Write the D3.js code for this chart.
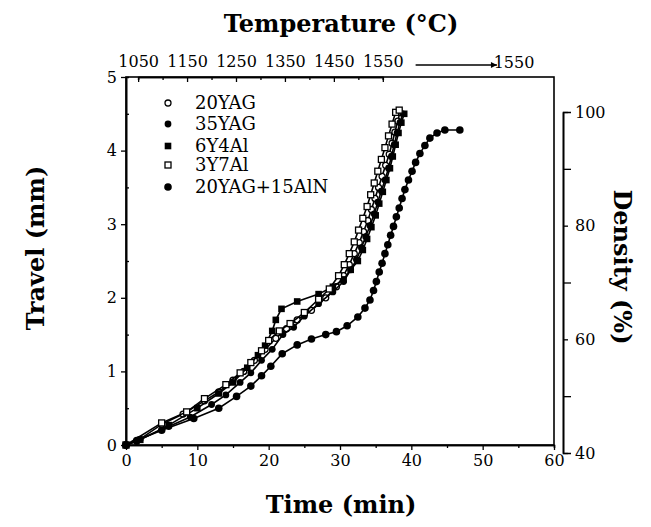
<!DOCTYPE html>
<html>
<head>
<meta charset="utf-8">
<script src="https://cdn.jsdelivr.net/npm/d3@7"></script>
<style>
  body { margin: 0; background: #fff; }
  text { font-family: "DejaVu Serif", "Liberation Serif", serif; fill: #000; }
</style>
</head>
<body>
<div class="chart"></div>
<script>
// series: [time (min), travel (mm)]
const s20YAG = [[0,0],[1.5,0.05],[5,0.28],[8,0.42],[11,0.6],[13,0.72],[15,0.88],[16.5,1.0],[18,1.15],[19.5,1.3],[21,1.45],[22.5,1.58],[24,1.7],[26,1.83],[28,2.0],[29.5,2.15],[30.5,2.3],[31.3,2.45],[32,2.6],[32.7,2.75],[33.3,2.9],[33.9,3.05],[34.4,3.2],[34.9,3.35],[35.4,3.5],[35.9,3.65],[36.4,3.8],[36.9,3.95],[37.3,4.1],[37.7,4.25],[38.1,4.4],[38.4,4.52]]
const s35YAG = [[0,0],[2,0.08],[6,0.25],[9,0.38],[12,0.55],[14,0.68],[16,0.85],[17.5,0.98],[19,1.15],[20.5,1.3],[22,1.5],[23.5,1.6],[25,1.75],[27,1.92],[29,2.08],[30.5,2.22],[31.5,2.38],[32.3,2.52],[33,2.68],[33.6,2.83],[34.2,2.98],[34.8,3.14],[35.3,3.3],[35.8,3.45],[36.3,3.6],[36.8,3.76],[37.2,3.92],[37.6,4.08],[38,4.24],[38.4,4.38],[38.8,4.5]]
const s6Y4Al = [[0,0],[2,0.07],[6,0.27],[10,0.5],[13,0.7],[15,0.85],[17,1.05],[18.5,1.22],[19.5,1.35],[20.5,1.55],[21,1.7],[21.8,1.85],[24,1.95],[27,2.05],[29,2.15],[30.5,2.25],[31.5,2.38],[32.5,2.5],[33.2,2.65],[33.8,2.8],[34.4,2.96],[35,3.12],[35.5,3.28],[36,3.44],[36.5,3.6],[37,3.76],[37.4,3.92],[37.8,4.08],[38.2,4.24],[38.6,4.38],[39,4.5]]
const s3Y7Al = [[0,0],[5,0.3],[8.5,0.45],[11,0.63],[14,0.82],[16,0.98],[17.5,1.12],[19,1.28],[20,1.42],[21.5,1.55],[23,1.65],[25,1.8],[27,1.98],[28.5,2.12],[29.8,2.3],[30.6,2.45],[31.3,2.6],[32,2.76],[32.6,2.92],[33.2,3.08],[33.8,3.24],[34.3,3.4],[34.8,3.56],[35.3,3.72],[35.8,3.88],[36.3,4.04],[36.8,4.2],[37.3,4.36],[37.8,4.52],[38.3,4.55]]
const sAlN = [[0,0],[1.5,0.06],[5,0.2],[9.5,0.36],[13,0.5],[15.5,0.66],[17.5,0.8],[19,0.94],[20.3,1.07],[21.9,1.24],[24,1.36],[26,1.44],[28,1.5],[29.5,1.54],[31,1.62],[32.5,1.74],[33.5,1.86],[34.2,1.97],[34.7,2.1],[35.1,2.22],[35.5,2.35],[35.9,2.47],[36.3,2.6],[36.7,2.72],[37.1,2.85],[37.5,2.97],[37.9,3.1],[38.3,3.22],[38.7,3.35],[39.1,3.47],[39.6,3.6],[40.1,3.72],[40.6,3.84],[41.2,3.96],[41.9,4.07],[42.6,4.17],[43.6,4.24],[44.7,4.28],[46.8,4.28]]

const seriesNames = ["20YAG", "35YAG", "6Y4Al", "3Y7Al", "20YAG+15AlN"]
const seriesData = [s20YAG, s35YAG, s6Y4Al, s3Y7Al, sAlN]
const seriesMarks = ["openCircle", "dot", "square", "openSquare", "bigDot"]

const timeTicks = [0, 10, 20, 30, 40, 50, 60]
const travelTicks = [0, 1, 2, 3, 4, 5]
const densityTicks = [40, 60, 80, 100]
const tempTicks = [1050, 1150, 1250, 1350, 1450, 1550]

const margin = {top: 77, right: 97, bottom: 82, left: 126},
      width = 651 - margin.left - margin.right,
      height = 527 - margin.top - margin.bottom;

const svg = d3.select(".chart")
  .append("svg")
    .attr("width", 651)
    .attr("height", 527)
  .append("g")
    .attr("transform", `translate(${margin.left},${margin.top})`);

const x = d3.scaleLinear().domain([0, 60]).range([0, width]);
const y = d3.scaleLinear().domain([0, 5]).range([height, 0]);
// density axis sits right of the frame
const yd = d3.scaleLinear().domain([40, 100]).range([376, 35]);
// temperature on top, mapped onto the time axis
const xt = d3.scaleLinear().domain([1050, 1550]).range([x(1.7), x(36)]);

const fmt = d3.format("d");

// frame
svg.append("rect")
  .attr("width", width).attr("height", height)
  .attr("fill", "none").attr("stroke", "#000").attr("stroke-width", 1.6);

// bottom axis
svg.append("g").attr("transform", `translate(0,${height})`)
  .call(d3.axisBottom(x).tickValues(timeTicks).tickFormat(fmt).tickSize(5).tickSizeOuter(0).tickPadding(5));
svg.append("g").attr("transform", `translate(0,${height})`)
  .call(d3.axisBottom(x).tickValues(d3.range(5, 60, 10)).tickSize(3).tickFormat(""));

// left axis
svg.append("g")
  .call(d3.axisLeft(y).tickValues(travelTicks).tickFormat(fmt).tickSize(5).tickSizeOuter(0).tickPadding(4));
svg.append("g")
  .call(d3.axisLeft(y).tickValues(d3.range(0.5, 5, 1)).tickSize(-3).tickFormat(""));

// top axis (temperature), ticks inside
svg.append("g")
  .call(d3.axisTop(xt).tickValues(tempTicks).tickFormat(fmt).tickSize(-5).tickSizeOuter(0).tickPadding(10));
svg.append("g")
  .call(d3.axisTop(xt).tickValues(d3.range(1100, 1550, 100)).tickSize(-3).tickFormat(""));

// right density axis
svg.append("g").attr("transform", `translate(${width + 9},0)`)
  .call(d3.axisRight(yd).tickValues(densityTicks).tickFormat(fmt).tickSize(5).tickSizeOuter(0).tickPadding(7));
svg.append("g").attr("transform", `translate(${width + 9},0)`)
  .call(d3.axisRight(yd).tickValues([50, 70, 90]).tickSize(8).tickFormat(""));

svg.selectAll(".domain").attr("stroke-width", 1.6);
svg.selectAll(".tick line").attr("stroke-width", 1.3);
svg.selectAll(".tick text").style("font-size", "16px").style("font-family", "DejaVu Serif");

// arrow to the second 1550
svg.append("defs").append("marker")
  .attr("id", "arrow").attr("viewBox", "0 0 10 10")
  .attr("refX", 10).attr("refY", 5)
  .attr("markerWidth", 7).attr("markerHeight", 4).attr("orient", "auto")
  .attr("markerUnits", "strokeWidth")
  .append("path").attr("d", "M0,0L10,5L0,10z").attr("fill", "#000");
svg.append("line")
  .attr("x1", x(40.6)).attr("x2", x(52))
  .attr("y1", -12).attr("y2", -12)
  .attr("stroke", "#000").attr("stroke-width", 1.5)
  .attr("marker-end", "url(#arrow)");
svg.append("text")
  .attr("x", x(54.4)).attr("y", -14)
  .attr("text-anchor", "middle").attr("dominant-baseline", "middle")
  .style("font-size", "16px")
  .text("1550");

// curves
const line = d3.line().x(d => x(d[0])).y(d => y(d[1]));

function drawMark(g, kind) {
  if (kind == "openCircle") {
    g.append("circle").attr("r", 3).attr("fill", "#fff").attr("stroke", "#000").attr("stroke-width", 1.3);
  } else if (kind == "dot") {
    g.append("circle").attr("r", 3.4).attr("fill", "#000");
  } else if (kind == "bigDot") {
    g.append("circle").attr("r", 3.8).attr("fill", "#000");
  } else if (kind == "square") {
    g.append("rect").attr("x", -3.3).attr("y", -3.3).attr("width", 6.6).attr("height", 6.6).attr("fill", "#000");
  } else {
    g.append("rect").attr("x", -3).attr("y", -3).attr("width", 6).attr("height", 6)
      .attr("fill", "#fff").attr("stroke", "#000").attr("stroke-width", 1.3);
  }
}

seriesData.forEach(function(data, i) {
  svg.append("path")
    .datum(data)
    .attr("fill", "none").attr("stroke", "#000").attr("stroke-width", 1.6)
    .attr("d", line);
  svg.selectAll(".m" + i)
    .data(data)
    .join("g")
      .attr("class", "m" + i)
      .attr("transform", d => `translate(${x(d[0])},${y(d[1])})`)
      .each(function() { drawMark(d3.select(this), seriesMarks[i]); });
});

// legend
const legend = svg.selectAll(".legend")
  .data(seriesNames)
  .join("g")
    .attr("class", "legend")
    .attr("transform", (d, i) => `translate(42,${[26, 47, 69, 88, 110][i]})`);
legend.each(function(d, i) { drawMark(d3.select(this), seriesMarks[i]); });
legend.append("text")
  .attr("x", 27).attr("dy", "0.35em")
  .style("font-size", "18px")
  .text(d => d);

// axis titles
svg.append("text")
  .attr("x", width / 2 + 1).attr("y", -45)
  .attr("text-anchor", "middle")
  .style("font-size", "24px").style("font-weight", "bold")
  .text("Temperature (°C)");
svg.append("text")
  .attr("x", width / 2 + 1).attr("y", height + 68)
  .attr("text-anchor", "middle")
  .style("font-size", "24px").style("font-weight", "bold")
  .text("Time (min)");
svg.append("text")
  .attr("transform", `translate(-82,${height / 2 - 13}) rotate(-90)`)
  .attr("text-anchor", "middle")
  .style("font-size", "24px").style("font-weight", "bold")
  .text("Travel (mm)");
svg.append("text")
  .attr("transform", `translate(${width + 60},${height / 2 + 6}) rotate(90)`)
  .attr("text-anchor", "middle")
  .style("font-size", "24px").style("font-weight", "bold")
  .text("Density (%)");
</script>
</body>
</html>
